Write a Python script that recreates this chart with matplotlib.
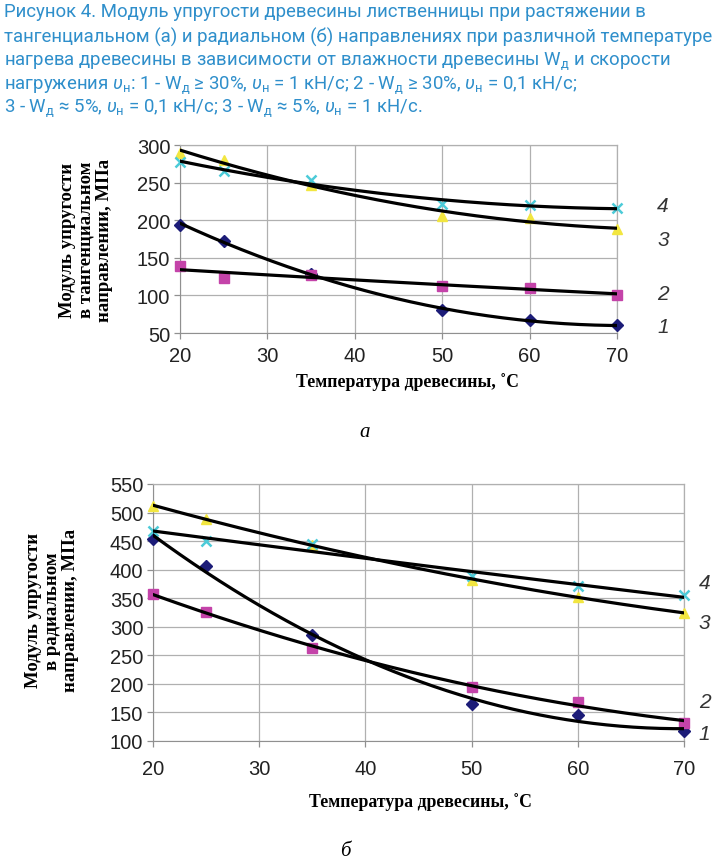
import numpy as np
import matplotlib
matplotlib.use("Agg")
import matplotlib.pyplot as plt

plt.rcParams['mathtext.fontset'] = 'custom'
plt.rcParams['mathtext.rm'] = 'Roboto'
plt.rcParams['mathtext.it'] = 'Roboto:italic'

# data: temperature of wood, °C
temp = [20, 25, 35, 50, 60, 70]

# (a) tangential direction, MPa
tan_1 = [194, 173, 128, 81, 67, 60]
tan_2 = [139, 123, 127, 113, 110, 101]
tan_3 = [290, 280, 247, 206, 203, 188]
tan_4 = [278, 265, 254, 222, 220, 216]

# (б) radial direction, MPa
rad_1 = [453, 407, 285, 164, 146, 118]
rad_2 = [357, 326, 262, 195, 169, 132]
rad_3 = [512, 489, 443, 382, 353, 324]
rad_4 = [467, 450, 445, 389, 371, 355]

curve_labels = ['1', '2', '3', '4']
caption = [
    "Рисунок 4. Модуль упругости древесины лиственницы при растяжении в",
    "тангенциальном (а) и радиальном (б) направлениях при различной температуре",
    "нагрева древесины в зависимости от влажности древесины W$_{\\mathrm{д}}$ и скорости",
    "нагружения $υ_{\\mathrm{н}}$: 1 - W$_{\\mathrm{д}}$ ≥ 30%, $υ_{\\mathrm{н}}$ = 1 кН/с; 2 - W$_{\\mathrm{д}}$ ≥ 30%, $υ_{\\mathrm{н}}$ = 0,1 кН/с;",
    "3 - W$_{\\mathrm{д}}$ ≈ 5%, $υ_{\\mathrm{н}}$ = 0,1 кН/с; 3 - W$_{\\mathrm{д}}$ ≈ 5%, $υ_{\\mathrm{н}}$ = 1 кН/с.",
]

styles = [
    dict(marker='D', color='#1c1c78', ms=6),
    dict(marker='s', color='#c443a9', ms=7.5),
    dict(marker='^', color='#f2e640', ms=7.5),
    dict(marker='x', color='#4ccbd8', ms=7.5, mew=1.8),
]

fig = plt.figure(figsize=(7.19, 8.62), dpi=100)

cap_color = '#2f8fcb'
cap_y = [12, 37, 61, 85, 108]
for line, y in zip(caption, cap_y):
    fig.text(4 / 719, 1 - y / 862, line, fontsize=13.4, family='Roboto',
             color=cap_color, va='center', ha='left')


def draw_panel(ax, series, ylim, yticks, ylabel, lbl_x, lbl_y,
               xpad, ylab_pos, xlab_pos):
    xs = np.linspace(20, 70, 200)
    for vals, st in zip(series, styles):
        ax.plot(temp, vals, linestyle='none', zorder=3, clip_on=False, **st)
        coef = np.polyfit(temp, vals, 2)
        ax.plot(xs, np.polyval(coef, xs), color='black', lw=2.3, zorder=4)
    ax.set_xlim(20, 70)
    ax.set_ylim(*ylim)
    ax.set_xticks([20, 30, 40, 50, 60, 70])
    ax.set_yticks(yticks)
    ax.grid(True, color='#b0b0b0', lw=0.9)
    ax.set_axisbelow(True)
    for s in ['top', 'right']:
        ax.spines[s].set_color('#b0b0b0')
        ax.spines[s].set_linewidth(0.9)
    for s in ['left', 'bottom']:
        ax.spines[s].set_color('#909090')
    ax.tick_params(colors='#909090', labelcolor='#222222', labelsize=14.5,
                   length=4, width=0.9)
    ax.tick_params(axis='x', pad=xpad)
    ax.tick_params(axis='y', pad=3)
    for t in ax.get_xticklabels() + ax.get_yticklabels():
        t.set_family('Liberation Sans')
    ax.set_xlabel('Температура древесины, ˚С', family='Liberation Serif',
                  fontweight='bold', fontsize=12.8)
    ax.xaxis.set_label_coords(*xlab_pos)
    ax.set_ylabel(ylabel, family='Liberation Serif', fontweight='bold',
                  fontsize=13.5, linespacing=1.1)
    ax.yaxis.label.set_va('center')
    ax.yaxis.set_label_coords(*ylab_pos)
    for lab, yv in zip(curve_labels, lbl_y):
        ax.text(lbl_x, yv, lab, fontsize=15, style='italic', color='#333333',
                family='Liberation Sans', va='center', ha='left', clip_on=False)


ax1 = fig.add_axes([180 / 719, 1 - 334 / 862, (617 - 180) / 719, (334 - 146) / 862])
draw_panel(ax1, [tan_1, tan_2, tan_3, tan_4], (50, 300),
           [50, 100, 150, 200, 250, 300],
           'Модуль упругости\nв тангенциальном\nнаправлении, МПа',
           74.6, [58, 103, 175, 219], 5,
           (-0.215, 0.5), (0.52, -0.205))
fig.text(365 / 719, 1 - 433 / 862, 'а', fontsize=15, style='italic',
         family='Liberation Serif', ha='center', va='center')

ax2 = fig.add_axes([153 / 719, 1 - 742 / 862, (684 - 153) / 719, (742 - 485) / 862])
draw_panel(ax2, [rad_1, rad_2, rad_3, rad_4], (100, 550),
           [100, 150, 200, 250, 300, 350, 400, 450, 500, 550],
           'Модуль упругости\nв радиальном\nнаправлении, МПа',
           71.4, [114, 170, 308, 378], 9,
           (-0.19, 0.51), (0.503, -0.2))
fig.text(345 / 719, 1 - 852 / 862, 'б', fontsize=15, style='italic',
         family='Liberation Serif', ha='center', va='center')

fig.savefig('out.png', dpi=100)
